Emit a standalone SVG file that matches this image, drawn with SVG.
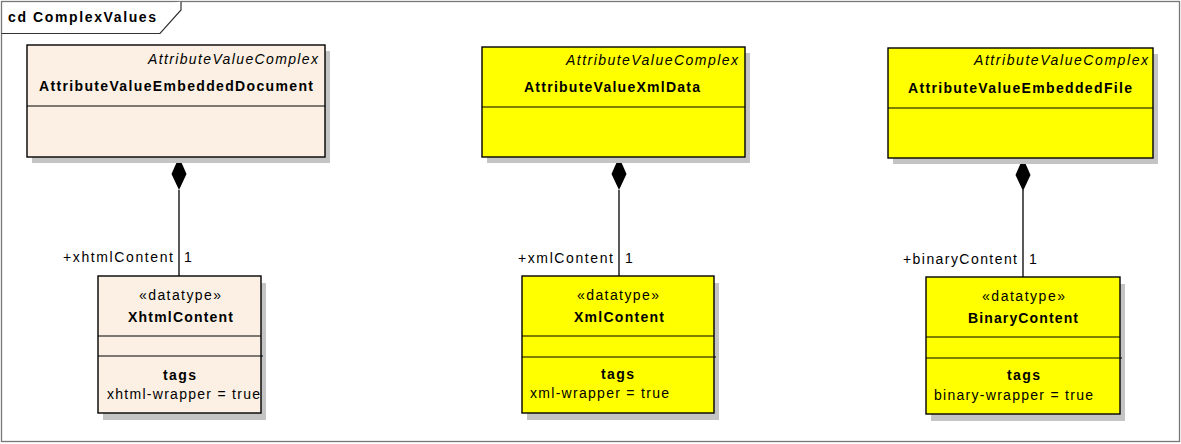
<svg xmlns="http://www.w3.org/2000/svg" width="1181" height="444" viewBox="0 0 1181 444">
<style>
text{font-family:"Liberation Sans",Arial,sans-serif;font-size:14px;fill:#000}
.b{font-weight:bold}
.i{font-style:italic}
.shadow{fill:#c4c4c4}
.box{stroke:#000;stroke-width:1.4}
.beige{fill:#fbf0e3}
.yellow{fill:#ffff00}
.sep{stroke:#000;stroke-width:1.2}
.conn{stroke:#000;stroke-width:1.3;fill:none}
.dia{fill:#000}
</style>
<g id="frame">
<rect x="1.5" y="1.5" width="1178" height="440" fill="#fff" stroke="#777" stroke-width="1.3"/>
<path d="M1.5 33.5 H160 L181 10 V1.5" fill="#fff" stroke="#333" stroke-width="1.2"/>
<text class="b" x="8" y="22" textLength="148" lengthAdjust="spacing">cd ComplexValues</text>
</g>
<g id="connectors">
<line class="conn" x1="179" y1="190" x2="179" y2="276"/>
<path class="dia" d="M179 157 L186.5 174 L179 190 L171.5 174 Z"/>
<text x="63" y="262" textLength="110" lengthAdjust="spacing">+xhtmlContent</text>
<text x="184" y="262">1</text>
<line class="conn" x1="619" y1="190" x2="619" y2="276"/>
<path class="dia" d="M619 157 L626.5 174 L619 190 L611.5 174 Z"/>
<text x="518" y="263" textLength="95" lengthAdjust="spacing">+xmlContent</text>
<text x="625" y="263">1</text>
<line class="conn" x1="1023" y1="190" x2="1023" y2="277"/>
<path class="dia" d="M1023 158 L1030.5 175 L1023 191 L1015.5 175 Z"/>
<text x="903" y="264" textLength="114" lengthAdjust="spacing">+binaryContent</text>
<text x="1029" y="264">1</text>
</g>
<g id="AttributeValueEmbeddedDocument">
<rect class="shadow" x="32" y="51" width="298" height="112"/>
<rect class="box beige" x="27" y="45" width="298" height="112"/>
<line class="sep" x1="27" y1="106" x2="325" y2="106"/>
<text class="i" x="148" y="64" textLength="170" lengthAdjust="spacing">AttributeValueComplex</text>
<text class="b" x="39" y="91" textLength="274" lengthAdjust="spacing">AttributeValueEmbeddedDocument</text>
</g>
<g id="AttributeValueXmlData">
<rect class="shadow" x="487" y="53" width="263" height="110"/>
<rect class="box yellow" x="482" y="47" width="263" height="110"/>
<line class="sep" x1="482" y1="107" x2="745" y2="107"/>
<text class="i" x="566" y="65" textLength="172" lengthAdjust="spacing">AttributeValueComplex</text>
<text class="b" x="524" y="92" textLength="176" lengthAdjust="spacing">AttributeValueXmlData</text>
</g>
<g id="AttributeValueEmbeddedFile">
<rect class="shadow" x="893" y="54" width="265" height="110"/>
<rect class="box yellow" x="888" y="48" width="265" height="110"/>
<line class="sep" x1="888" y1="108" x2="1153" y2="108"/>
<text class="i" x="974" y="65" textLength="174" lengthAdjust="spacing">AttributeValueComplex</text>
<text class="b" x="908" y="93" textLength="224" lengthAdjust="spacing">AttributeValueEmbeddedFile</text>
</g>
<g id="XhtmlContent">
<rect class="shadow" x="103" y="283" width="163" height="137"/>
<rect class="box beige" x="98" y="276" width="163" height="137"/>
<line class="sep" x1="98" y1="336" x2="261" y2="336"/>
<line class="sep" x1="98" y1="356" x2="263" y2="356"/>
<text x="139" y="300" textLength="82" lengthAdjust="spacing">«datatype»</text>
<text class="b" x="128" y="322" textLength="105" lengthAdjust="spacing">XhtmlContent</text>
<text class="b" x="163" y="380" textLength="33" lengthAdjust="spacing">tags</text>
<text x="107" y="399" textLength="153" lengthAdjust="spacing">xhtml-wrapper = true</text>
</g>
<g id="XmlContent">
<rect class="shadow" x="527" y="283" width="192" height="137"/>
<rect class="box yellow" x="522" y="276" width="192" height="137"/>
<line class="sep" x1="522" y1="336" x2="714" y2="336"/>
<line class="sep" x1="522" y1="357" x2="716" y2="357"/>
<text x="577" y="300" textLength="82" lengthAdjust="spacing">«datatype»</text>
<text class="b" x="574" y="322" textLength="90" lengthAdjust="spacing">XmlContent</text>
<text class="b" x="601" y="379" textLength="33" lengthAdjust="spacing">tags</text>
<text x="530" y="398" textLength="139" lengthAdjust="spacing">xml-wrapper = true</text>
</g>
<g id="BinaryContent">
<rect class="shadow" x="931" y="284" width="194" height="137"/>
<rect class="box yellow" x="926" y="277" width="194" height="137"/>
<line class="sep" x1="926" y1="337" x2="1120" y2="337"/>
<line class="sep" x1="926" y1="358" x2="1122" y2="358"/>
<text x="982" y="301" textLength="83" lengthAdjust="spacing">«datatype»</text>
<text class="b" x="968" y="323" textLength="110" lengthAdjust="spacing">BinaryContent</text>
<text class="b" x="1007" y="380" textLength="33" lengthAdjust="spacing">tags</text>
<text x="934" y="400" textLength="159" lengthAdjust="spacing">binary-wrapper = true</text>
</g>
</svg>
